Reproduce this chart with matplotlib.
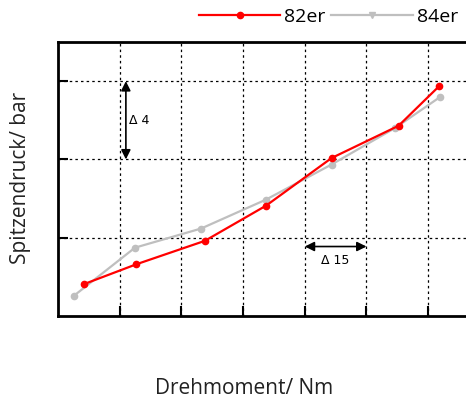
import matplotlib

matplotlib.use("Agg")
import matplotlib.pyplot as plt
from matplotlib.lines import Line2D

plt.rcParams["font.family"] = ["Open Sans", "DejaVu Sans"]

# torque (Nm) vs. peak pressure (bar), two variants
torque_82 = [6.2, 19.0, 35.7, 50.6, 66.5, 82.8, 92.6]
pressure_82 = [1.62, 2.64, 3.84, 5.64, 8.07, 9.72, 11.73]
torque_84 = [3.9, 18.7, 34.8, 50.6, 66.5, 81.9, 92.9]
pressure_84 = [1.04, 3.49, 4.47, 5.95, 7.74, 9.60, 11.19]

RED = "#ff0000"
GREY = "#bfbfbf"

fig = plt.figure(figsize=(4.66, 4.0), dpi=100)
ax = fig.add_axes([0.1245, 0.21, 0.8826, 0.685])

ax.plot(torque_84, pressure_84, color=GREY, lw=1.6, marker="o", ms=4.5,
        zorder=3)
ax.plot(torque_82, pressure_82, color=RED, lw=1.6, marker="o", ms=4.5,
        zorder=4)

ax.set_xlim(0, 100)
ax.set_ylim(0, 14)
ax.set_xticks([15, 30, 45, 60, 75, 90])
ax.set_yticks([4, 8, 12])
ax.set_xticklabels([])
ax.set_yticklabels([])
ax.tick_params(direction="in", length=7, width=1.5, color="black")
ax.grid(True, color="black", linestyle=(0, (2, 2.5)), linewidth=0.9)
for side in ("left", "bottom", "top"):
    ax.spines[side].set_linewidth(2)
ax.spines["right"].set_visible(False)

# step size markers
arrow = dict(arrowstyle="<|-|>", color="black", lw=1.2, mutation_scale=14,
             shrinkA=0, shrinkB=0)
ax.annotate("", xy=(16.5, 12), xytext=(16.5, 8), arrowprops=arrow, zorder=5)
ax.text(17.3, 10.0, "\u0394 4", fontsize=9, va="center", ha="left",
        family=["DejaVu Sans"])
ax.annotate("", xy=(60, 3.55), xytext=(75, 3.55), arrowprops=arrow, zorder=5)
ax.text(67.5, 2.85, "\u0394 15", fontsize=9, va="center", ha="center",
        family=["DejaVu Sans"])

handles = [
    Line2D([], [], color=RED, lw=1.6, marker="o", ms=4.5),
    Line2D([], [], color=GREY, lw=1.6, marker="v", ms=4),
]
fig.legend(handles, ["82er", "84er"], loc="center right",
           bbox_to_anchor=(1.021, 0.958), ncol=2, frameon=False, fontsize=14,
           handlelength=4.2, handletextpad=0.2, columnspacing=0.3)

fig.text(0.524, 0.03, "Drehmoment/ Nm", ha="center", va="center",
         fontsize=15, color="#222222")
fig.text(0.045, 0.555, "Spitzendruck/ bar", ha="center", va="center",
         rotation=90, fontsize=15, color="#222222")

fig.savefig("out.png")
